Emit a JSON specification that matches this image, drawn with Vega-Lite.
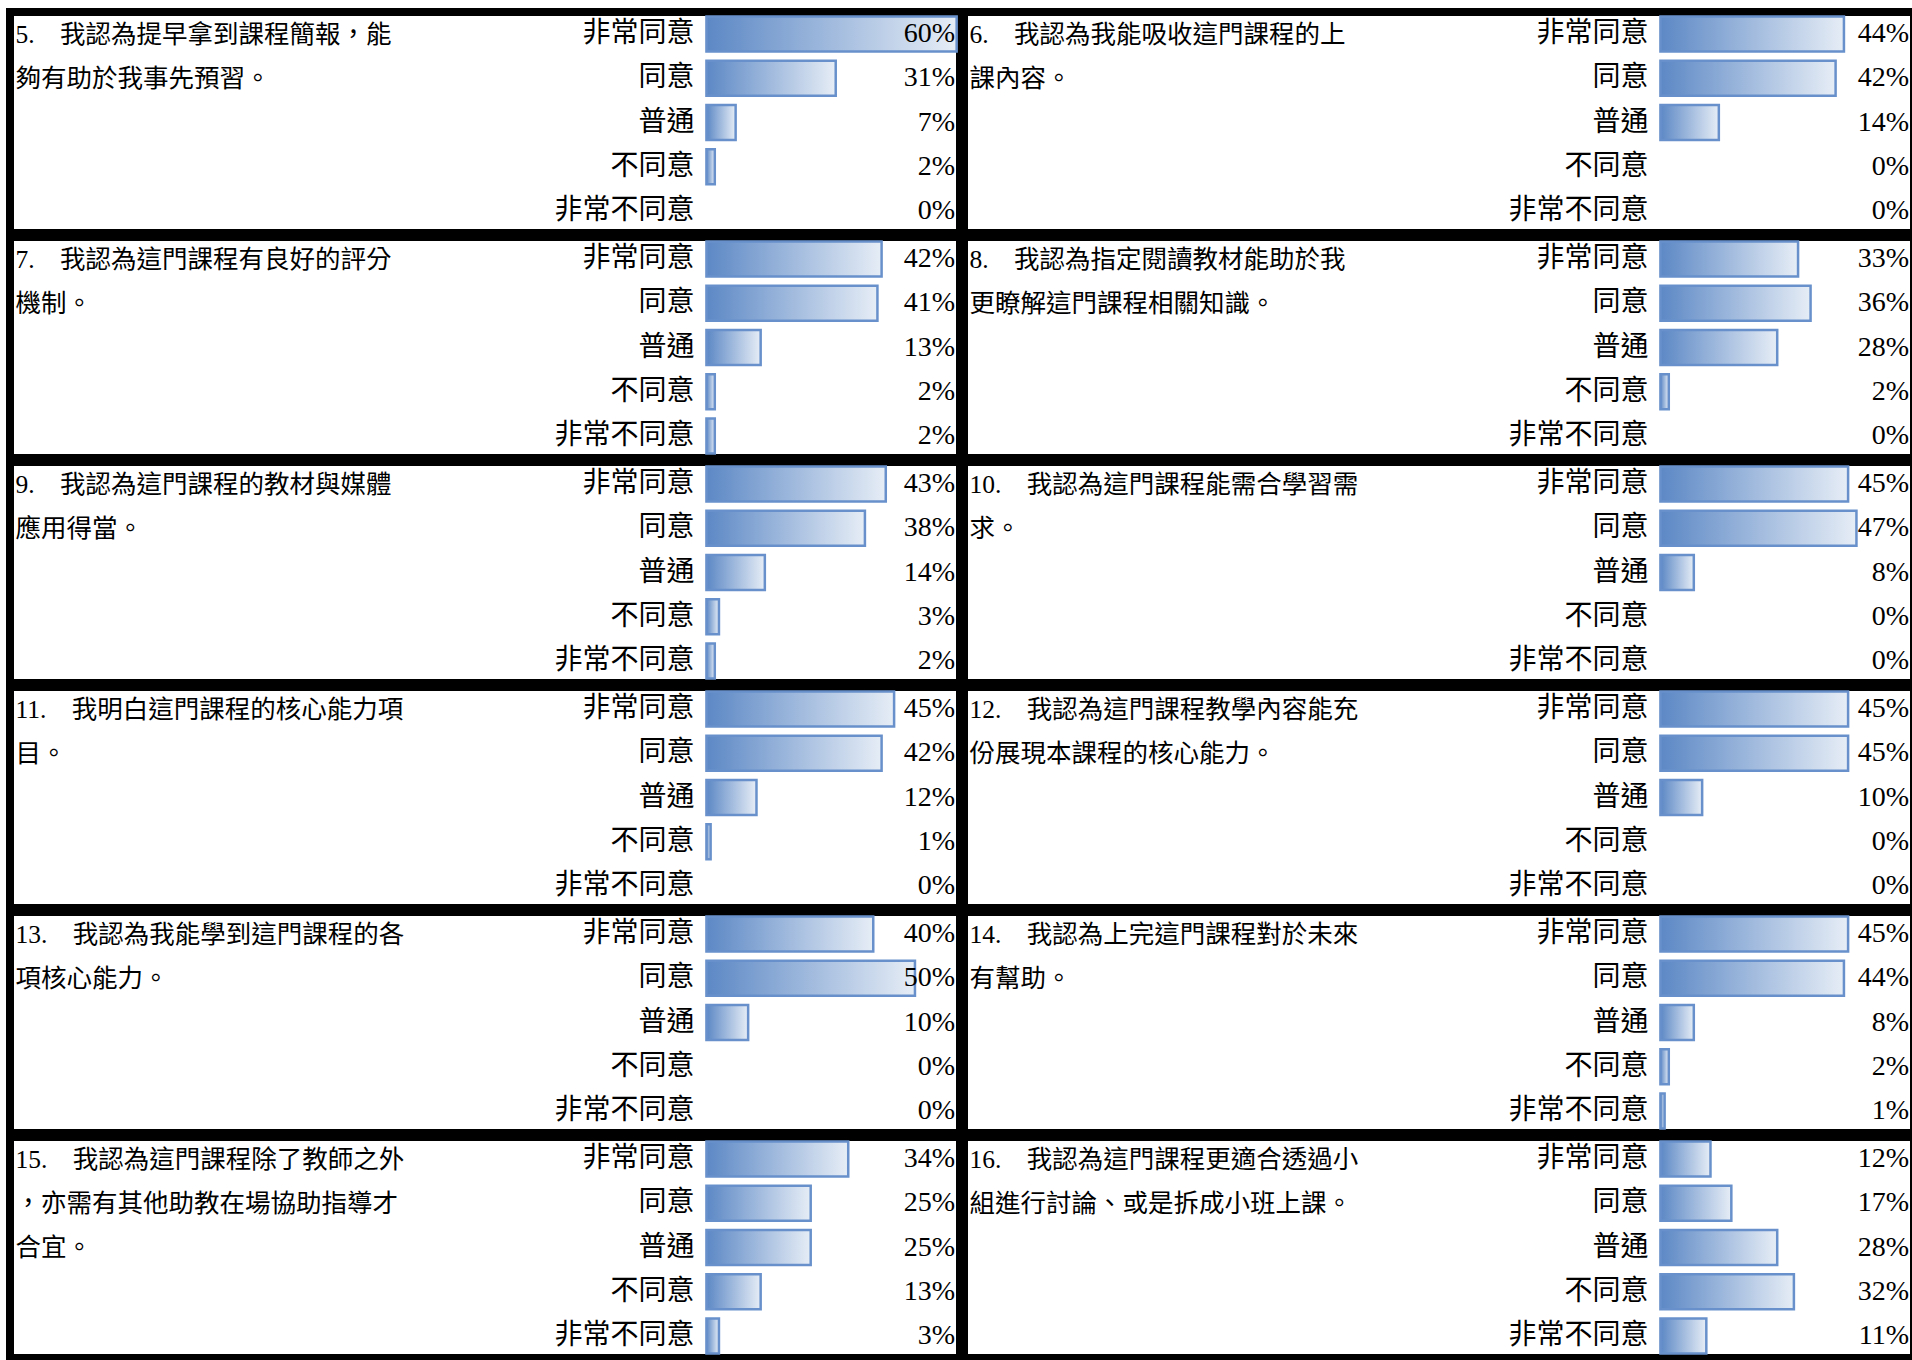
{
  "$schema": "https://vega.github.io/schema/vega-lite/v6.json",
  "background": "white",
  "padding": {"left": 6, "top": 8, "right": 0, "bottom": 0},
  "datasets": {
    "questions": [
      {"q": 5, "question": "5.　我認為提早拿到課程簡報，能\n夠有助於我事先預習。"},
      {"q": 6, "question": "6.　我認為我能吸收這門課程的上\n課內容。"},
      {"q": 7, "question": "7.　我認為這門課程有良好的評分\n機制。"},
      {"q": 8, "question": "8.　我認為指定閱讀教材能助於我\n更瞭解這門課程相關知識。"},
      {"q": 9, "question": "9.　我認為這門課程的教材與媒體\n應用得當。"},
      {"q": 10, "question": "10.　我認為這門課程能需合學習需\n求。"},
      {"q": 11, "question": "11.　我明白這門課程的核心能力項\n目。"},
      {"q": 12, "question": "12.　我認為這門課程教學內容能充\n份展現本課程的核心能力。"},
      {"q": 13, "question": "13.　我認為我能學到這門課程的各\n項核心能力。"},
      {"q": 14, "question": "14.　我認為上完這門課程對於未來\n有幫助。"},
      {"q": 15, "question": "15.　我認為這門課程除了教師之外\n，亦需有其他助教在場協助指導才\n合宜。"},
      {"q": 16, "question": "16.　我認為這門課程更適合透過小\n組進行討論、或是拆成小班上課。"}
    ],
    "responses": [
      {"q": 5, "cat": "非常同意", "pct": 0.60}, {"q": 5, "cat": "同意", "pct": 0.31}, {"q": 5, "cat": "普通", "pct": 0.07}, {"q": 5, "cat": "不同意", "pct": 0.02}, {"q": 5, "cat": "非常不同意", "pct": 0.0},
      {"q": 6, "cat": "非常同意", "pct": 0.44}, {"q": 6, "cat": "同意", "pct": 0.42}, {"q": 6, "cat": "普通", "pct": 0.14}, {"q": 6, "cat": "不同意", "pct": 0.0}, {"q": 6, "cat": "非常不同意", "pct": 0.0},
      {"q": 7, "cat": "非常同意", "pct": 0.42}, {"q": 7, "cat": "同意", "pct": 0.41}, {"q": 7, "cat": "普通", "pct": 0.13}, {"q": 7, "cat": "不同意", "pct": 0.02}, {"q": 7, "cat": "非常不同意", "pct": 0.02},
      {"q": 8, "cat": "非常同意", "pct": 0.33}, {"q": 8, "cat": "同意", "pct": 0.36}, {"q": 8, "cat": "普通", "pct": 0.28}, {"q": 8, "cat": "不同意", "pct": 0.02}, {"q": 8, "cat": "非常不同意", "pct": 0.0},
      {"q": 9, "cat": "非常同意", "pct": 0.43}, {"q": 9, "cat": "同意", "pct": 0.38}, {"q": 9, "cat": "普通", "pct": 0.14}, {"q": 9, "cat": "不同意", "pct": 0.03}, {"q": 9, "cat": "非常不同意", "pct": 0.02},
      {"q": 10, "cat": "非常同意", "pct": 0.45}, {"q": 10, "cat": "同意", "pct": 0.47}, {"q": 10, "cat": "普通", "pct": 0.08}, {"q": 10, "cat": "不同意", "pct": 0.0}, {"q": 10, "cat": "非常不同意", "pct": 0.0},
      {"q": 11, "cat": "非常同意", "pct": 0.45}, {"q": 11, "cat": "同意", "pct": 0.42}, {"q": 11, "cat": "普通", "pct": 0.12}, {"q": 11, "cat": "不同意", "pct": 0.01}, {"q": 11, "cat": "非常不同意", "pct": 0.0},
      {"q": 12, "cat": "非常同意", "pct": 0.45}, {"q": 12, "cat": "同意", "pct": 0.45}, {"q": 12, "cat": "普通", "pct": 0.10}, {"q": 12, "cat": "不同意", "pct": 0.0}, {"q": 12, "cat": "非常不同意", "pct": 0.0},
      {"q": 13, "cat": "非常同意", "pct": 0.40}, {"q": 13, "cat": "同意", "pct": 0.50}, {"q": 13, "cat": "普通", "pct": 0.10}, {"q": 13, "cat": "不同意", "pct": 0.0}, {"q": 13, "cat": "非常不同意", "pct": 0.0},
      {"q": 14, "cat": "非常同意", "pct": 0.45}, {"q": 14, "cat": "同意", "pct": 0.44}, {"q": 14, "cat": "普通", "pct": 0.08}, {"q": 14, "cat": "不同意", "pct": 0.02}, {"q": 14, "cat": "非常不同意", "pct": 0.01},
      {"q": 15, "cat": "非常同意", "pct": 0.34}, {"q": 15, "cat": "同意", "pct": 0.25}, {"q": 15, "cat": "普通", "pct": 0.25}, {"q": 15, "cat": "不同意", "pct": 0.13}, {"q": 15, "cat": "非常不同意", "pct": 0.03},
      {"q": 16, "cat": "非常同意", "pct": 0.12}, {"q": 16, "cat": "同意", "pct": 0.17}, {"q": 16, "cat": "普通", "pct": 0.28}, {"q": 16, "cat": "不同意", "pct": 0.32}, {"q": 16, "cat": "非常不同意", "pct": 0.11}
    ]
  },
  "data": {"name": "responses"},
  "transform": [
    {"lookup": "q", "from": {"data": {"name": "questions"}, "key": "q", "fields": ["question"]}}
  ],
  "facet": {"field": "q", "type": "ordinal", "header": {"labels": false, "title": null, "labelPadding": 0, "labelFontSize": 0, "labelExpr": "''"}},
  "columns": 2,
  "spacing": -8,
  "spec": {
    "width": 950,
    "height": 221,
    "encoding": {
      "y": {
        "field": "cat",
        "type": "nominal",
        "sort": ["非常同意", "同意", "普通", "不同意", "非常不同意"],
        "scale": {"domain": ["非常同意", "同意", "普通", "不同意", "非常不同意"], "paddingInner": 0.208, "paddingOuter": 0.104},
        "axis": null
      }
    },
    "layer": [
      {
        "transform": [{"filter": "datum.pct > 0"}],
        "mark": {
          "type": "bar",
          "fill": {"gradient": "linear", "x1": 0, "x2": 1, "y1": 0, "y2": 0, "stops": [{"offset": 0, "color": "#5C88C5"}, {"offset": 1, "color": "#E6EDF6"}]},
          "stroke": "#6891CB",
          "strokeWidth": 2.5
        },
        "encoding": {
          "x": {"field": "pct", "type": "quantitative", "scale": {"domain": [-1.67, 0.608], "nice": false, "zero": false}, "axis": null},
          "x2": {"datum": 0}
        }
      },
      {
        "transform": [{"filter": "datum.cat === '非常同意'"}],
        "mark": {"type": "text", "align": "left", "baseline": "top", "lineBreak": "\n", "lineHeight": 44.2, "fontSize": 25.5, "dy": -11, "font": "Liberation Serif, Noto Sans CJK TC", "color": "black"},
        "encoding": {
          "x": {"datum": -1.657, "type": "quantitative"},
          "text": {"field": "question"}
        }
      },
      {
        "mark": {"type": "text", "align": "right", "baseline": "middle", "fontSize": 28, "dx": -12, "font": "Noto Sans CJK TC", "color": "black"},
        "encoding": {
          "x": {"datum": 0, "type": "quantitative"},
          "text": {"field": "cat"}
        }
      },
      {
        "mark": {"type": "text", "align": "right", "baseline": "middle", "fontSize": 28, "font": "Liberation Serif", "color": "black"},
        "encoding": {
          "x": {"datum": 0.596, "type": "quantitative"},
          "text": {"field": "pct", "type": "quantitative", "format": ".0%"}
        }
      }
    ]
  },
  "config": {
    "view": {"stroke": "black", "strokeWidth": 8},
    "font": "Noto Sans CJK TC",
    "header": {"labels": false, "title": null, "labelPadding": 0, "titlePadding": 0, "labelFontSize": 0, "labelExpr": "''"},
    "headerFacet": {"labels": false, "title": null, "labelPadding": 0, "titlePadding": 0, "labelFontSize": 0, "labelExpr": "''"}
  }
}
